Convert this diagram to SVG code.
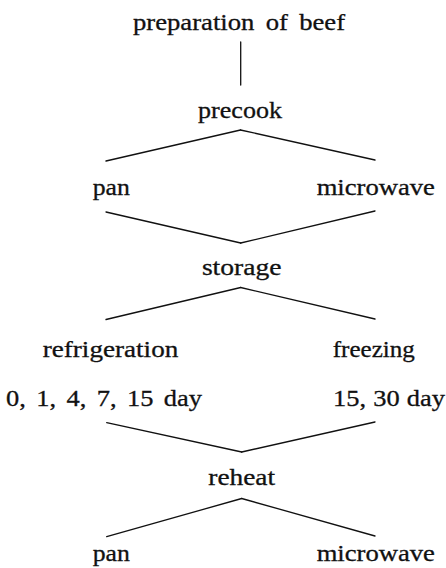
<svg xmlns="http://www.w3.org/2000/svg" width="446" height="568" viewBox="0 0 446 568">
<style>
text{font-family:"Liberation Serif","Times New Roman",serif;font-size:23px;fill:#111;stroke:#111;stroke-width:0.3;text-anchor:middle}
.c line{stroke:#111;stroke-width:1.3;stroke-linecap:round;fill:none}
</style>
<rect width="446" height="568" fill="#fff"/>
<g id="connectors" class="c">
<line x1="240.7" y1="42" x2="240.7" y2="85" stroke-width="1.1"/>
<line x1="240.5" y1="130" x2="106" y2="161"/>
<line x1="240.5" y1="130" x2="375" y2="160"/>
<line x1="106" y1="212" x2="240.7" y2="243"/>
<line x1="375" y1="211" x2="240.7" y2="243"/>
<line x1="240.7" y1="287.5" x2="106" y2="319.5"/>
<line x1="240.7" y1="287.5" x2="375" y2="319"/>
<line x1="106.7" y1="422.7" x2="241.7" y2="452"/>
<line x1="375" y1="422" x2="241.7" y2="452"/>
<line x1="241.7" y1="498.5" x2="106.7" y2="536.7"/>
<line x1="241.7" y1="498.5" x2="375" y2="536"/>
</g>
<g id="node-preparation"><text transform="translate(239,30) scale(1.16,1)" style="word-spacing:4px">preparation of beef</text></g>
<g id="node-precook"><text transform="translate(240,118) scale(1.134,1)">precook</text></g>
<g id="node-pan1"><text transform="translate(111.3,195) scale(1.12,1)">pan</text></g>
<g id="node-microwave1"><text transform="translate(375.8,195) scale(1.158,1)">microwave</text></g>
<g id="node-storage"><text transform="translate(241.7,275) scale(1.2,1)">storage</text></g>
<g id="node-refrigeration">
<text transform="translate(110.5,357) scale(1.18,1)">refrigeration</text>
<text transform="translate(104,406) scale(1.15,1)" style="word-spacing:3.3px">0, 1, 4, 7, 15 day</text>
</g>
<g id="node-freezing">
<text transform="translate(373.8,357) scale(1.09,1)">freezing</text>
<text transform="translate(389,406) scale(1.15,1)" style="word-spacing:0.5px">15, 30 day</text>
</g>
<g id="node-reheat"><text transform="translate(241.7,485) scale(1.19,1)">reheat</text></g>
<g id="node-pan2"><text transform="translate(111.3,561) scale(1.12,1)">pan</text></g>
<g id="node-microwave2"><text transform="translate(375.8,561) scale(1.158,1)">microwave</text></g>
</svg>
